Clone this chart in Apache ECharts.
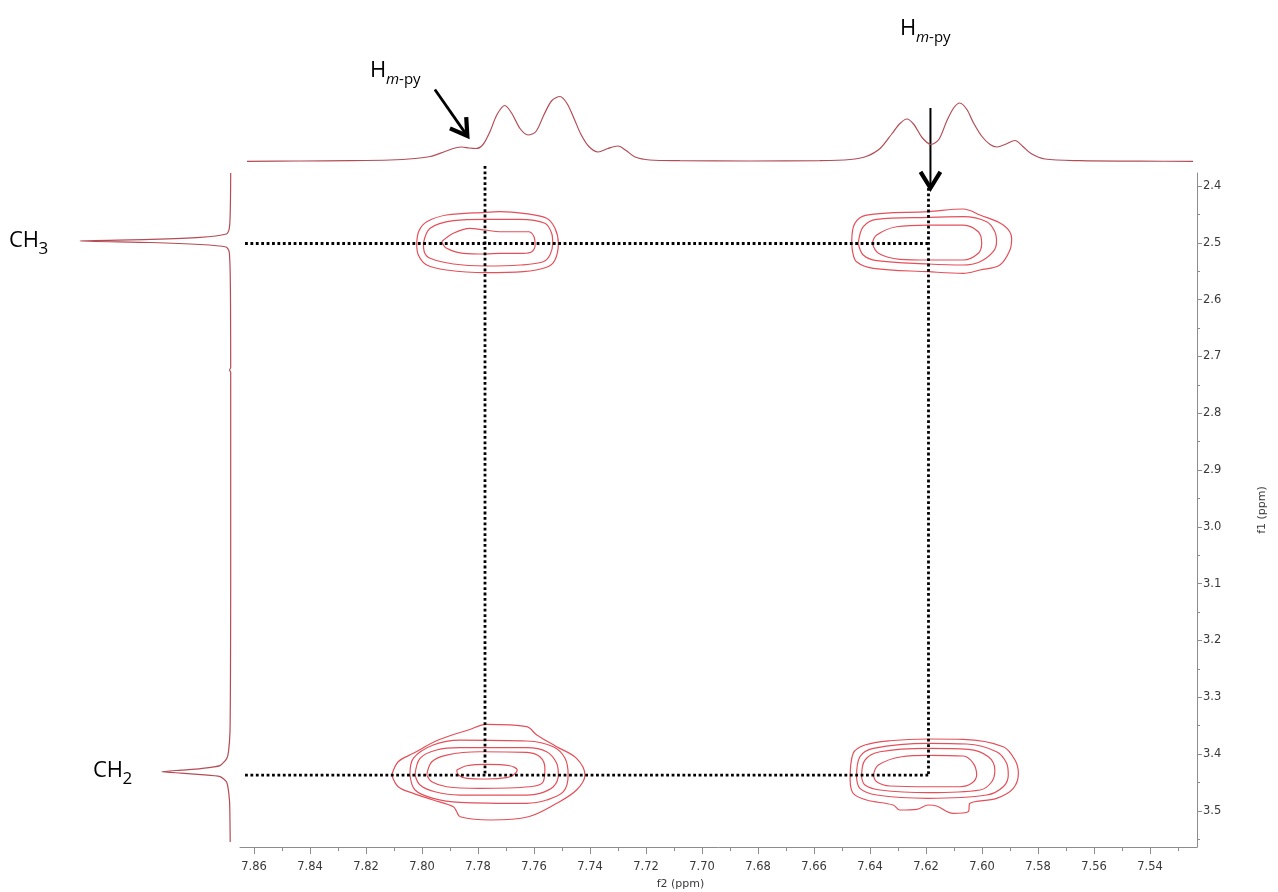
<!DOCTYPE html>
<html><head><meta charset="utf-8">
<script src="https://cdn.jsdelivr.net/npm/echarts@6/dist/echarts.min.js"></script>
<style>html,body{margin:0;padding:0;background:#fff}#c{width:1278px;height:892px}</style>
</head><body><div id="c"></div>
<script>
// ---- axis ranges & ticks ----
const f2Range = [7.5232, 7.865];
const f1Range = [2.3771, 3.5637];
const f2Major = [7.86,7.84,7.82,7.80,7.78,7.76,7.74,7.72,7.70,7.68,7.66,7.64,7.62,7.60,7.58,7.56,7.54];
const f2Minor = [7.85,7.83,7.81,7.79,7.77,7.75,7.73,7.71,7.69,7.67,7.65,7.63,7.61,7.59,7.57,7.55,7.53];
const f1Major = [2.4,2.5,2.6,2.7,2.8,2.9,3.0,3.1,3.2,3.3,3.4,3.5];
const f1Minor = [2.45,2.55,2.65,2.75,2.85,2.95,3.05,3.15,3.25,3.35,3.45,3.55];

// ---- 1D projections ----
// top: [f2 ppm, intensity]
const topSpectrum = [
 [7.8625,0.2],[7.8436,0.5],[7.8257,0.8],[7.8114,1.5],[7.8025,3],[7.7971,5],[7.7918,10],[7.7882,13.5],
 [7.7857,14.5],[7.7832,13.5],[7.7807,13],[7.7782,17],[7.7757,30],[7.7732,47],[7.7704,56],[7.7679,48],
 [7.7650,33],[7.7621,26.5],[7.7593,30],[7.7564,47],[7.7536,61],[7.7507,65],[7.7482,58],[7.7457,43],
 [7.7432,27],[7.7404,15],[7.7371,9.5],[7.7336,13],[7.7300,15.5],[7.7271,11],[7.7239,4.5],[7.7186,1.5],
 [7.7079,0.8],[7.6829,0.5],[7.6579,0.8],[7.6471,2],[7.6414,5],[7.6364,13],[7.6321,28],[7.6293,38],
 [7.6268,42.5],[7.6243,37],[7.6214,24],[7.6182,17],[7.6154,22],[7.6125,41],[7.6100,54],[7.6079,58.5],
 [7.6054,52],[7.6029,38],[7.6000,25],[7.5971,17],[7.5946,14.5],[7.5914,17.5],[7.5882,21],[7.5854,15],
 [7.5825,8],[7.5775,2.5],[7.5650,0.8],[7.5436,0.3],[7.5246,0.2]
];
// left: [f1 ppm, intensity]
const leftSpectrum = [
 [2.3771,0.3],[2.42,0.5],[2.46,1],[2.4774,2],[2.4845,4.5],[2.4906,31],[2.4941,80],[2.4968,151],
 [2.4995,80],[2.5030,31],[2.5074,5],[2.5144,2],[2.54,1],[2.60,0.5],[2.72,0.3],[2.724,1.5],[2.728,0.3],
 [2.9,0.3],[3.1,0.3],[3.25,0.5],[3.3606,1],[3.3958,2.5],[3.4081,4.3],[3.4204,11],[3.4257,30],
 [3.4284,50],[3.431,69],[3.4336,50],[3.4363,30],[3.4398,11],[3.4498,4.3],[3.482,1.5],[3.52,1],[3.555,0.8]
];

// ---- 2D contours [f2, f1] ----
const contoursA = [
 [[7.8019,2.5009],[7.8011,2.4792],[7.7983,2.4629],[7.7912,2.4511],[7.7775,2.4463],[7.7721,2.4452],[7.7638,2.4481],[7.7555,2.4569],[7.7525,2.4745],[7.7513,2.5009],[7.7525,2.5303],[7.7555,2.5431],[7.7638,2.5509],[7.7775,2.5526],[7.7912,2.5479],[7.7983,2.5391],[7.8013,2.5215],[7.8019,2.5009]],
 [[7.7995,2.5009],[7.7971,2.4745],[7.7888,2.4611],[7.7775,2.4586],[7.765,2.4586],[7.7561,2.4657],[7.7537,2.4833],[7.7533,2.5009],[7.7543,2.5215],[7.7567,2.5333],[7.765,2.5391],[7.7775,2.5408],[7.7888,2.5373],[7.7971,2.5273],[7.7992,2.5157],[7.7995,2.5009]],
 [[7.7930,2.4981],[7.7888,2.4833],[7.7829,2.4745],[7.7775,2.4775],[7.7721,2.4805],[7.7620,2.4805],[7.7600,2.4893],[7.7596,2.5039],[7.7608,2.5157],[7.7638,2.5185],[7.7721,2.5185],[7.7775,2.5197],[7.7853,2.5185],[7.7912,2.5097],[7.7930,2.4981]]
];
const contoursB = [
 [[7.6465,2.4951],[7.6454,2.4657],[7.6412,2.4511],[7.6192,2.4452],[7.6067,2.4405],[7.6007,2.4511],[7.5924,2.4687],[7.5894,2.4921],[7.5900,2.5127],[7.5936,2.5391],[7.6007,2.5479],[7.6067,2.5537],[7.6192,2.5509],[7.6388,2.5449],[7.6448,2.5333],[7.6462,2.5157],[7.6465,2.4951]],
 [[7.6442,2.5009],[7.6424,2.4717],[7.6376,2.4586],[7.6192,2.4551],[7.6067,2.4540],[7.5983,2.4629],[7.5954,2.4805],[7.5948,2.4981],[7.5960,2.5157],[7.6007,2.5333],[7.6067,2.5391],[7.6192,2.5373],[7.6376,2.5315],[7.6424,2.5215],[7.6442,2.5009]],
 [[7.6392,2.5009],[7.6376,2.4863],[7.6305,2.4717],[7.6192,2.4687],[7.6067,2.4687],[7.6013,2.4805],[7.6001,2.5009],[7.6013,2.5185],[7.6067,2.5303],[7.6192,2.5303],[7.6293,2.5290],[7.6370,2.5185],[7.6392,2.5009]]
];
const contoursC = [
 [[7.8108,3.4370],[7.8085,3.4136],[7.8031,3.3988],[7.7942,3.3754],[7.7835,3.3577],[7.7769,3.3477],[7.7626,3.3519],[7.7590,3.3665],[7.7519,3.3871],[7.7448,3.4076],[7.7418,3.4370],[7.7448,3.4634],[7.7519,3.4868],[7.7620,3.5104],[7.7757,3.5162],[7.7864,3.5104],[7.7876,3.5016],[7.7888,3.4928],[7.7960,3.4810],[7.8031,3.4692],[7.8085,3.4576],[7.8108,3.4370]],
 [[7.8043,3.4370],[7.8031,3.4076],[7.7960,3.3842],[7.7864,3.3754],[7.7626,3.3771],[7.7531,3.3871],[7.7489,3.4076],[7.7478,3.4370],[7.7495,3.4664],[7.7555,3.4810],[7.7626,3.4868],[7.7864,3.4850],[7.7960,3.4780],[7.8025,3.4634],[7.8043,3.4370]],
 [[7.8025,3.4370],[7.8007,3.4076],[7.7948,3.3930],[7.7864,3.3889],[7.7626,3.3889],[7.7555,3.3960],[7.7519,3.4164],[7.7513,3.4370],[7.7531,3.4576],[7.7579,3.4692],[7.7626,3.4722],[7.7864,3.4722],[7.7954,3.4664],[7.8007,3.4546],[7.8025,3.4370]],
 [[7.7983,3.4370],[7.7965,3.4136],[7.7912,3.4018],[7.7793,3.3960],[7.7626,3.3970],[7.7579,3.4048],[7.7561,3.4252],[7.7567,3.4488],[7.7614,3.4576],[7.7793,3.4604],[7.7912,3.4576],[7.7965,3.4488],[7.7983,3.4370]],
 [[7.7876,3.4282],[7.7840,3.4206],[7.7769,3.4181],[7.7686,3.4206],[7.7660,3.4282],[7.7674,3.4370],[7.7698,3.4417],[7.7769,3.4440],[7.7840,3.4428],[7.7870,3.4370],[7.7876,3.4282]]
];
const contoursD = [
 [[7.6471,3.4458],[7.6460,3.3988],[7.6418,3.3842],[7.6329,3.3766],[7.6192,3.3736],[7.6067,3.3741],[7.5924,3.3871],[7.5882,3.4106],[7.5870,3.4340],[7.5888,3.4604],[7.5948,3.4780],[7.6043,3.4868],[7.6049,3.5016],[7.6103,3.5044],[7.6162,3.4916],[7.6192,3.4898],[7.6233,3.4974],[7.6293,3.4986],[7.6317,3.4898],[7.6412,3.4810],[7.6460,3.4692],[7.6471,3.4458]],
 [[7.6448,3.4400],[7.6436,3.4048],[7.6388,3.3900],[7.6192,3.3812],[7.6055,3.3824],[7.5948,3.3960],[7.5912,3.4164],[7.5906,3.4370],[7.5924,3.4576],[7.5983,3.4722],[7.6192,3.4780],[7.6376,3.4722],[7.6436,3.4604],[7.6448,3.4400]],
 [[7.6430,3.4400],[7.6418,3.4106],[7.6364,3.3960],[7.6192,3.3900],[7.6049,3.3917],[7.5977,3.4048],[7.5954,3.4282],[7.5965,3.4488],[7.6007,3.4634],[7.6192,3.4681],[7.6364,3.4634],[7.6418,3.4546],[7.6430,3.4400]],
 [[7.6388,3.4370],[7.6370,3.4194],[7.6287,3.4048],[7.6192,3.4023],[7.6067,3.4035],[7.6031,3.4164],[7.6019,3.4370],[7.6037,3.4516],[7.6079,3.4576],[7.6192,3.4576],[7.6329,3.4563],[7.6376,3.4488],[7.6388,3.4370]]
];

// ---- correlation guide lines [f2, f1] ----
const guides = [
 [[7.7775,2.3648],[7.7775,3.437]],
 [[7.6191,2.4035],[7.6191,3.437]],
 [[7.8632,2.5012],[7.6191,2.5012]],
 [[7.8632,3.437],[7.6191,3.437]]
];
// ---- arrows in top-spectrum coordinates [f2 start, I start, f2 tip, I tip] ----
const arrows = [
 [7.7954,72,7.7838,25.5],
 [7.6184,53.5,7.6184,-26.5]
];
// ---- annotation texts ----
const peakLabel = 'H';
const peakSub = 'm-py';
const groupLabels = [['CH','3'],['CH','2']];

const chart = echarts.init(document.getElementById('c'), null, {renderer:'canvas'});
const axisGray = '#8c8c8c';
const tickFont = {fontFamily:'DejaVu Sans', fontSize:11.5, color:'#3a3a3a'};
const contourColor = '#e4505a';
const specColor = '#b44c56';

const series = [];
series.push({type:'line', xAxisIndex:2, yAxisIndex:2, data:topSpectrum, showSymbol:false, smooth:0.3,
  lineStyle:{color:specColor, width:1.2}, clip:false, silent:true});
series.push({type:'line', xAxisIndex:3, yAxisIndex:3, data:leftSpectrum.map(d=>[d[1],d[0]]), showSymbol:false, smooth:0.2,
  lineStyle:{color:specColor, width:1.2}, clip:false, silent:true});
[contoursA, contoursB, contoursC, contoursD].forEach(group=>group.forEach(c=>{
  series.push({type:'line', xAxisIndex:0, yAxisIndex:0, data:c, showSymbol:false, smooth:0.35,
    lineStyle:{color:contourColor, width:1.2}, silent:true});
}));
guides.forEach(g=>series.push({type:'line', xAxisIndex:0, yAxisIndex:0, data:g, showSymbol:false, clip:false,
  lineStyle:{color:'#000', width:2.8, type:[2.8,2.6], cap:'butt'}, silent:true}));
series.push({type:'custom', xAxisIndex:2, yAxisIndex:2, data:arrows, clip:false, silent:true,
  renderItem:(params, api)=>{
    const p0 = api.coord([api.value(0), api.value(1)]);
    const p1 = api.coord([api.value(2), api.value(3)]);
    const dx = p1[0]-p0[0], dy = p1[1]-p0[1];
    const len = Math.hypot(dx,dy), bx = -dx/len, by = -dy/len;
    const h = 19, a = 0.55;
    const rot = (t)=>[p1[0] + h*(bx*Math.cos(t) - by*Math.sin(t)), p1[1] + h*(bx*Math.sin(t) + by*Math.cos(t))];
    return {type:'group', children:[
      {type:'line', shape:{x1:p0[0], y1:p0[1], x2:p1[0]+bx*2, y2:p1[1]+by*2}, style:{stroke:'#000', lineWidth: params.dataIndex===0?2.8:2}},
      {type:'polyline', shape:{points:[rot(a), p1, rot(-a)]}, style:{stroke:'#000', lineWidth:4.2, fill:null, lineJoin:'miter'}}
    ]};
  }});

const FF = 'Open Sans';
const subRich = {i:{fontFamily:FF, fontStyle:'italic', fontSize:15, fill:'#000'}, n:{fontFamily:FF, fontSize:15, fill:'#000'}};
const graphic = [
  {type:'text', style:{x:370, y:71, text:peakLabel, font:'22px '+FF, fill:'#000', verticalAlign:'middle'}},
  {type:'text', style:{x:386, y:80, text:'{i|'+peakSub[0]+'}{n|'+peakSub.slice(1)+'}', rich:subRich, verticalAlign:'middle'}},
  {type:'text', style:{x:900, y:29, text:peakLabel, font:'22px '+FF, fill:'#000', verticalAlign:'middle'}},
  {type:'text', style:{x:916, y:38, text:'{i|'+peakSub[0]+'}{n|'+peakSub.slice(1)+'}', rich:subRich, verticalAlign:'middle'}},
  {type:'text', style:{x:9, y:241, text:groupLabels[0][0], font:'22px '+FF, fill:'#000', verticalAlign:'middle'}},
  {type:'text', style:{x:38.5, y:249, text:groupLabels[0][1], font:'17px '+FF, fill:'#000', verticalAlign:'middle'}},
  {type:'text', style:{x:93, y:771, text:groupLabels[1][0], font:'22px '+FF, fill:'#000', verticalAlign:'middle'}},
  {type:'text', style:{x:122.5, y:779, text:groupLabels[1][1], font:'17px '+FF, fill:'#000', verticalAlign:'middle'}}
];

chart.setOption({
  animation:false,
  backgroundColor:'#fff',
  grid:[
    {left:240, right:81, top:173, bottom:45, outerBoundsMode:'none', containLabel:false},
    {left:240, right:81, top:91, height:70.5, outerBoundsMode:'none', containLabel:false},
    {left:0, width:231, top:173, bottom:45, outerBoundsMode:'none', containLabel:false}
  ],
  xAxis:[
    {type:'value', gridIndex:0, min:f2Range[0], max:f2Range[1], inverse:true, position:'bottom',
     axisLine:{show:true, onZero:false, lineStyle:{color:axisGray, width:1}},
     axisTick:{show:true, customValues:f2Major, length:7, inside:false, lineStyle:{color:axisGray}},
     axisLabel:{show:true, customValues:f2Major, formatter:v=>v.toFixed(2), margin:14, ...tickFont},
     splitLine:{show:false},
     name:'f2 (ppm)', nameLocation:'middle', nameGap:32,
     nameTextStyle:{fontFamily:'DejaVu Sans', fontSize:11, color:'#3a3a3a', padding:[0,76,0,0]}},
    {type:'value', gridIndex:0, min:f2Range[0], max:f2Range[1], inverse:true, position:'bottom',
     axisLine:{show:false, onZero:false}, axisTick:{show:true, customValues:f2Minor, length:4, lineStyle:{color:axisGray}},
     axisLabel:{show:false}, splitLine:{show:false}},
    {type:'value', gridIndex:1, min:f2Range[0], max:f2Range[1], inverse:true, show:false},
    {type:'value', gridIndex:2, min:0, max:231, inverse:true, show:false}
  ],
  yAxis:[
    {type:'value', gridIndex:0, min:f1Range[0], max:f1Range[1], inverse:true, position:'right',
     axisLine:{show:true, onZero:false, lineStyle:{color:axisGray, width:1}},
     axisTick:{show:true, customValues:f1Major, length:5, inside:false, lineStyle:{color:axisGray}},
     axisLabel:{show:true, customValues:f1Major, formatter:v=>v.toFixed(1), margin:6, ...tickFont},
     splitLine:{show:false},
     name:'f1 (ppm)', nameLocation:'middle', nameRotate:90, nameGap:60,
     nameTextStyle:{fontFamily:'DejaVu Sans', fontSize:11, color:'#3a3a3a'}},
    {type:'value', gridIndex:0, min:f1Range[0], max:f1Range[1], inverse:true, position:'right',
     axisLine:{show:false, onZero:false}, axisTick:{show:true, customValues:f1Minor, length:3, lineStyle:{color:axisGray}},
     axisLabel:{show:false}, splitLine:{show:false}},
    {type:'value', gridIndex:1, min:0, max:70.5, show:false},
    {type:'value', gridIndex:2, min:f1Range[0], max:f1Range[1], inverse:true, show:false}
  ],
  series,
  graphic
});
</script></body></html>
